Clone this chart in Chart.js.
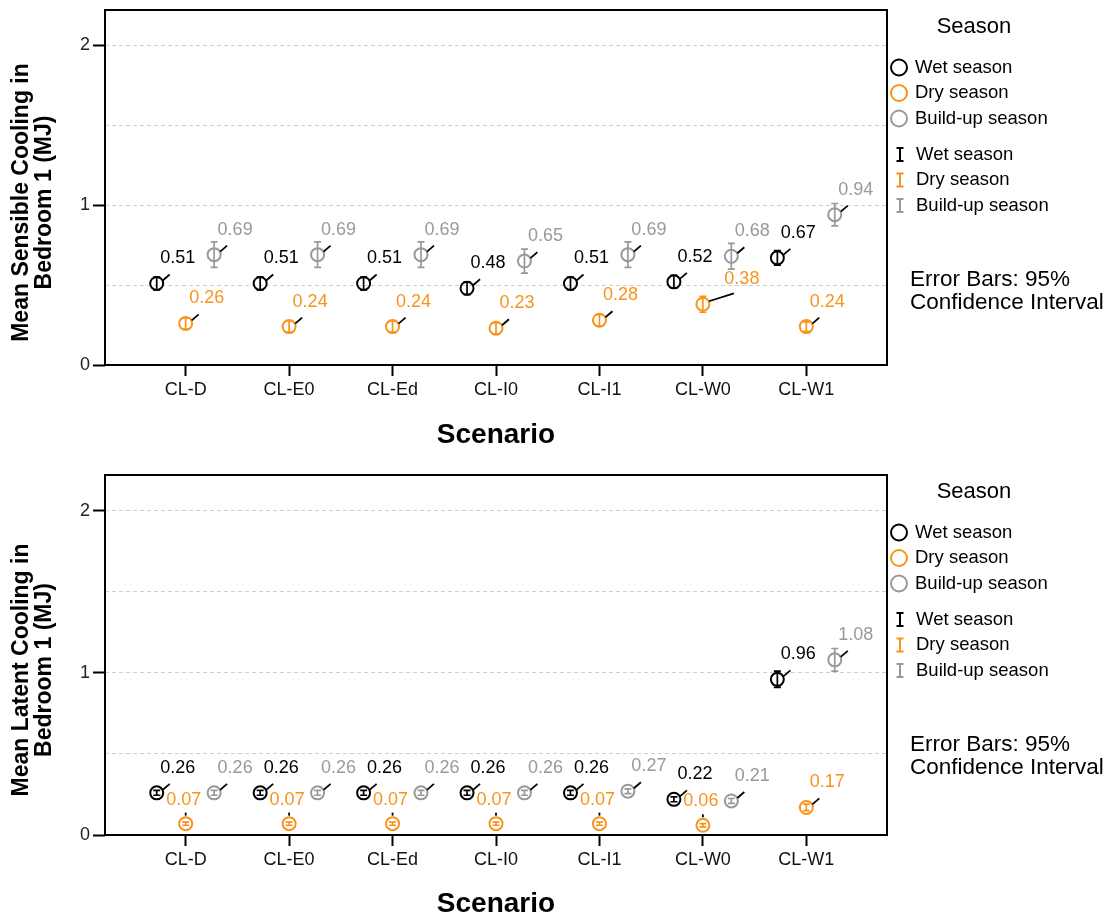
<!DOCTYPE html>
<html>
<head>
<meta charset="utf-8">
<script src="https://cdn.jsdelivr.net/npm/chart.js@4.4.1/dist/chart.umd.min.js"></script>
<style>
  html, body { margin: 0; padding: 0; background: #fff; }
  #wrap { position: relative; width: 1113px; height: 918px; }
  .box { position: absolute; left: 0; width: 1113px; }
  #top { top: 0; height: 465px; }
  #bot { top: 465px; height: 453px; }
</style>
</head>
<body>
<div id="wrap">
  <div class="box" id="top"><canvas id="c1" width="1113" height="465"></canvas></div>
  <div class="box" id="bot"><canvas id="c2" width="1113" height="453"></canvas></div>
</div>
<script>
/* Dados */
const SCENARIOS = ["CL-D", "CL-E0", "CL-Ed", "CL-I0", "CL-I1", "CL-W0", "CL-W1"];
const SEASONS = ["Wet season", "Dry season", "Build-up season"];

// Sensible cooling (MJ)
const SENS_WET = [0.51, 0.51, 0.51, 0.48, 0.51, 0.52, 0.67];
const SENS_DRY = [0.26, 0.24, 0.24, 0.23, 0.28, 0.38, 0.24];
const SENS_BUILD = [0.69, 0.69, 0.69, 0.65, 0.69, 0.68, 0.94];
const SENS_WET_CI = [0.04, 0.04, 0.04, 0.04, 0.04, 0.04, 0.045];
const SENS_DRY_CI = [0.035, 0.035, 0.035, 0.035, 0.035, 0.05, 0.03];
const SENS_BUILD_CI = [0.08, 0.08, 0.08, 0.075, 0.08, 0.08, 0.07];

// Latent cooling (MJ)
const LAT_WET = [0.26, 0.26, 0.26, 0.26, 0.26, 0.22, 0.96];
const LAT_DRY = [0.07, 0.07, 0.07, 0.07, 0.07, 0.06, 0.17];
const LAT_BUILD = [0.26, 0.26, 0.26, 0.26, 0.27, 0.21, 1.08];
const LAT_WET_CI = [0.015, 0.015, 0.015, 0.015, 0.015, 0.015, 0.05];
const LAT_DRY_CI = [0.01, 0.01, 0.01, 0.01, 0.01, 0.01, 0.02];
const LAT_BUILD_CI = [0.015, 0.015, 0.015, 0.015, 0.015, 0.015, 0.07];

const Y_TICKS = [0, 0.5, 1, 1.5, 2];

const CORES = ["#000000", "#F7941D", "#999999"];
const DESLOC = [-0.28, 0, 0.275];
const FONT = "'Liberation Sans', Arial, Helvetica, sans-serif";

const decor = {
  id: "decor",
  afterDatasetsDraw(chart, args, opts) {
    const { ctx, chartArea: a, scales: { x, y } } = chart;
    ctx.save();
    // barras de erro
    opts.series.forEach((s, si) => {
      s.values.forEach((v, i) => {
        const px = x.getPixelForValue(i + DESLOC[si]);
        const y0 = y.getPixelForValue(v - s.ci[i]);
        const y1 = y.getPixelForValue(v + s.ci[i]);
        ctx.strokeStyle = CORES[si];
        ctx.lineWidth = 1.7;
        ctx.beginPath();
        ctx.moveTo(px, y0); ctx.lineTo(px, y1);
        ctx.moveTo(px - 3.5, y0); ctx.lineTo(px + 3.5, y0);
        ctx.moveTo(px - 3.5, y1); ctx.lineTo(px + 3.5, y1);
        ctx.stroke();
      });
    });
    // rótulos com linha guia
    ctx.font = `18px ${FONT}`;
    ctx.textAlign = "center";
    ctx.textBaseline = "middle";
    opts.series.forEach((s, si) => {
      s.values.forEach((v, i) => {
        const px = x.getPixelForValue(i + DESLOC[si]);
        const py = y.getPixelForValue(v);
        const modo = opts.acima && opts.acima[si] && opts.acima[si].includes(i) ? "acima" : "diag";
        const dx = (opts.nudge && opts.nudge[si + "-" + i]) || 0;
        ctx.strokeStyle = "#000";
        ctx.lineWidth = 1.8;
        ctx.beginPath();
        if (modo === "acima") {
          ctx.moveTo(px, py - 8); ctx.lineTo(px, py - 11);
          ctx.stroke();
          ctx.fillStyle = CORES[si];
          ctx.fillText(v.toFixed(2), px - 2, py - 24);
        } else {
          ctx.moveTo(px + 6, py - 3); ctx.lineTo(px + 13 + dx, py - 9 - dx * 0.1);
          ctx.stroke();
          ctx.fillStyle = CORES[si];
          ctx.fillText(v.toFixed(2), px + 21 + dx, py - 25);
        }
      });
    });
    // moldura
    ctx.strokeStyle = "#000";
    ctx.lineWidth = 2;
    ctx.strokeRect(a.left, a.top, a.right - a.left, a.bottom - a.top);
    ctx.restore();
  },
  afterDraw(chart, args, opts) {
    const { ctx, chartArea: a } = chart;
    ctx.save();
    // título do eixo y (duas linhas, um pouco abaixo do centro como no original)
    ctx.fillStyle = "#000";
    ctx.textBaseline = "middle";
    ctx.textAlign = "center";
    ctx.font = `bold 23px ${FONT}`;
    const cy = (a.top + a.bottom) / 2 + 15;
    opts.tituloY.forEach((linha, k) => {
      ctx.save();
      ctx.translate(22 + k * 23, cy);
      ctx.rotate(-Math.PI / 2);
      ctx.fillText(linha, 0, 0);
      ctx.restore();
    });
    // legenda
    ctx.font = `22px ${FONT}`;
    ctx.fillText("Season", 974, 27);
    ctx.font = `18.5px ${FONT}`;
    ctx.textAlign = "left";
    SEASONS.forEach((s, k) => {
      const yy = 67.5 + k * 25.5;
      ctx.beginPath();
      ctx.arc(899, yy, 8, 0, Math.PI * 2);
      ctx.strokeStyle = CORES[k];
      ctx.lineWidth = 2;
      ctx.stroke();
      ctx.fillStyle = "#000";
      ctx.fillText(s, 915, yy);
    });
    SEASONS.forEach((s, k) => {
      const yy = 154.5 + k * 25.5;
      ctx.strokeStyle = CORES[k];
      ctx.lineWidth = 2;
      ctx.beginPath();
      ctx.moveTo(900, yy - 6.5); ctx.lineTo(900, yy + 6.5);
      ctx.moveTo(896.5, yy - 6.5); ctx.lineTo(903.5, yy - 6.5);
      ctx.moveTo(896.5, yy + 6.5); ctx.lineTo(903.5, yy + 6.5);
      ctx.stroke();
      ctx.fillStyle = "#000";
      ctx.fillText(s, 916, yy);
    });
    ctx.font = `22.5px ${FONT}`;
    ctx.fillText("Error Bars: 95%", 910, 280);
    ctx.fillText("Confidence Interval", 910, 303);
    ctx.restore();
  },
};

function montarGrafico(canvas, cfg) {
  const datasets = cfg.series.map((s, si) => ({
    label: SEASONS[si],
    data: s.values.map((v, i) => ({ x: i + DESLOC[si], y: v })),
    pointRadius: 6.5,
    pointBorderWidth: 2,
    borderColor: CORES[si],
    backgroundColor: "rgba(0,0,0,0)",
    showLine: false,
  }));
  return new Chart(canvas, {
    type: "scatter",
    data: { datasets },
    options: {
      responsive: false,
      animation: false,
      layout: { padding: { top: 10, right: 226, left: 0, bottom: 0 } },
      plugins: {
        legend: { display: false },
        tooltip: { enabled: false },
        decor: { series: cfg.series, acima: cfg.acima, nudge: cfg.nudge, tituloY: cfg.tituloY },
      },
      scales: {
        x: {
          type: "linear",
          min: -0.78,
          max: 6.78,
          afterBuildTicks: sc => { sc.ticks = SCENARIOS.map((_, i) => ({ value: i })); },
          afterFit: sc => { sc.height = cfg.alturaX; sc.paddingLeft = 0; sc.paddingRight = 0; },
          ticks: {
            callback: v => SCENARIOS[v],
            color: "#111",
            font: { family: FONT, size: 18 },
            padding: 3,
            autoSkip: false,
            maxRotation: 0,
          },
          grid: { drawOnChartArea: false, tickLength: 11, tickColor: "#000", tickWidth: 2 },
          border: { display: false },
          title: {
            display: true,
            text: "Scenario",
            color: "#000",
            font: { family: FONT, size: 28, weight: "bold", lineHeight: 1 },
            padding: { top: 0, bottom: cfg.tituloX },
          },
        },
        y: {
          min: 0,
          max: 2.22,
          afterBuildTicks: sc => { sc.ticks = Y_TICKS.map(v => ({ value: v })); },
          afterFit: sc => { sc.width = 105; sc.paddingTop = 0; sc.paddingBottom = 0; },
          ticks: {
            callback: v => (Number.isInteger(v) ? String(v) : ""),
            color: "#222",
            font: { family: FONT, size: 18 },
            padding: 3,
          },
          grid: {
            color: c => (c.tick && c.tick.value === 0 ? "rgba(0,0,0,0)" : "#cfcfcf"),
            lineWidth: 1,
            tickLength: 12,
            tickWidth: 2,
            tickBorderDash: [],
            tickColor: c => (c.tick && Number.isInteger(c.tick.value) ? "#000" : "rgba(0,0,0,0)"),
          },
          border: { display: false, dash: [4, 3] },
          title: { display: false },
        },
      },
    },
    plugins: [decor],
  });
}

montarGrafico(document.getElementById("c1"), {
  series: [
    { values: SENS_WET, ci: SENS_WET_CI },
    { values: SENS_DRY, ci: SENS_DRY_CI },
    { values: SENS_BUILD, ci: SENS_BUILD_CI },
  ],
  tituloY: ["Mean Sensible Cooling in", "Bedroom 1 (MJ)"],
  alturaX: 100,
  tituloX: 16,
  nudge: { "1-5": 18 },
});

montarGrafico(document.getElementById("c2"), {
  series: [
    { values: LAT_WET, ci: LAT_WET_CI },
    { values: LAT_DRY, ci: LAT_DRY_CI },
    { values: LAT_BUILD, ci: LAT_BUILD_CI },
  ],
  tituloY: ["Mean Latent Cooling in", "Bedroom 1 (MJ)"],
  alturaX: 83,
  tituloX: 0,
  acima: { 1: [0, 1, 2, 3, 4, 5] },
});
</script>
</body>
</html>
